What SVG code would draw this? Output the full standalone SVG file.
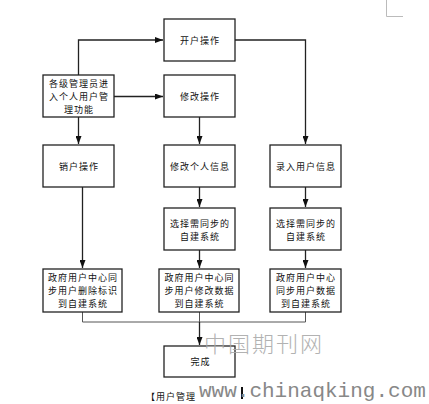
<svg xmlns="http://www.w3.org/2000/svg" width="429" height="404" viewBox="0 0 429 404">
<defs>
<style>
.box{fill:#fff;stroke:#222;stroke-width:1.3}
.t{font-family:"Noto Sans CJK SC","Noto Sans",sans-serif;font-size:9px;letter-spacing:1px;fill:#111;text-anchor:middle;dominant-baseline:central}
.c{fill:none;stroke:#222;stroke-width:1.3}
.cg{fill:none;stroke:#555;stroke-width:1}
</style>
<marker id="ah" viewBox="0 0 8 6" refX="8" refY="3" markerWidth="8" markerHeight="6" markerUnits="userSpaceOnUse" orient="auto">
<path d="M0,0 L8,3 L0,6 Z" fill="#111"/>
</marker>
</defs>
<rect width="429" height="404" fill="#fff"/>
<path d="M386.5,0 V16.5 H403" fill="none" stroke="#bbb" stroke-width="1"/>

<g id="connectors">
<path class="c" d="M78.5,75 V40 H163" marker-end="url(#ah)"/>
<path class="c" d="M114,96.5 H163" stroke="#444" stroke-width="1.6" marker-end="url(#ah)"/>
<path class="c" d="M78.5,117 V144" marker-end="url(#ah)"/>
<path class="c" d="M199.5,117 V144" marker-end="url(#ah)"/>
<path class="c" d="M235,40 H305.5 V144" marker-end="url(#ah)"/>
<path class="c" d="M199.5,187 V207" marker-end="url(#ah)"/>
<path class="c" d="M305.5,187 V207" marker-end="url(#ah)"/>
<path class="c" d="M199.5,250 V268" marker-end="url(#ah)"/>
<path class="c" d="M305.5,250 V268" marker-end="url(#ah)"/>
<path class="c" d="M82.5,187 V268" marker-end="url(#ah)"/>
<path class="cg" d="M82.5,312 V322 H305.5 V312 M199.5,312 V322"/>
<path class="c" d="M199.5,322 V345" stroke-width="2" marker-end="url(#ah)"/>
</g>

<g id="n-kaihu"><rect class="box" x="164" y="19" width="71" height="42"/><text class="t" x="200" y="40">开户操作</text></g>
<g id="n-admin"><rect class="box" x="43" y="75" width="71" height="42"/>
<text class="t" x="79" y="83">各级管理员进</text><text class="t" x="79" y="96">入个人用户管</text><text class="t" x="79" y="109">理功能</text></g>
<g id="n-xiugai"><rect class="box" x="164" y="75" width="71" height="42"/><text class="t" x="200" y="96">修改操作</text></g>
<g id="n-xiaohu"><rect class="box" x="43" y="145" width="71" height="42"/><text class="t" x="79" y="166">销户操作</text></g>
<g id="n-xiugaigeren"><rect class="box" x="164" y="145" width="71" height="42"/><text class="t" x="200" y="166">修改个人信息</text></g>
<g id="n-luru"><rect class="box" x="270" y="145" width="71" height="42"/><text class="t" x="306" y="166">录入用户信息</text></g>
<g id="n-xuanze1"><rect class="box" x="164" y="208" width="71" height="42"/><text class="t" x="200" y="223">选择需同步的</text><text class="t" x="200" y="236">自建系统</text></g>
<g id="n-xuanze2"><rect class="box" x="270" y="208" width="71" height="42"/><text class="t" x="306" y="223">选择需同步的</text><text class="t" x="306" y="236">自建系统</text></g>
<g id="n-sync1"><rect class="box" x="43" y="269" width="79" height="43"/>
<text class="t" x="83" y="277">政府用户中心同</text><text class="t" x="83" y="290">步用户删除标识</text><text class="t" x="83" y="303">到自建系统</text></g>
<g id="n-sync2"><rect class="box" x="159" y="269" width="80" height="43"/>
<text class="t" x="199.5" y="277">政府用户中心同</text><text class="t" x="199.5" y="290">步用户修改数据</text><text class="t" x="199.5" y="303">到自建系统</text></g>
<g id="n-sync3"><rect class="box" x="270" y="269" width="71" height="43"/>
<text class="t" x="306" y="277">政府用户中心</text><text class="t" x="306" y="290">同步用户数据</text><text class="t" x="306" y="303">到自建系统</text></g>
<g id="n-done"><rect class="box" x="164" y="346" width="71" height="31"/><text class="t" x="200.5" y="361">完成</text></g>

<text x="146" y="400" font-family="'Noto Sans CJK SC',sans-serif" font-size="9" letter-spacing="1" fill="#111">【用户管理</text>
<rect x="241" y="387" width="2" height="12" fill="#111"/>
<text x="204" y="351.5" font-family="'Noto Sans CJK SC',serif" font-size="22" letter-spacing="2" font-weight="300" fill="#aaa" opacity="0.9">中国期刊网</text>
<text x="199" y="397" font-family="'Liberation Mono',monospace" font-size="21" fill="#888">www.chinaqking.com</text>
</svg>
